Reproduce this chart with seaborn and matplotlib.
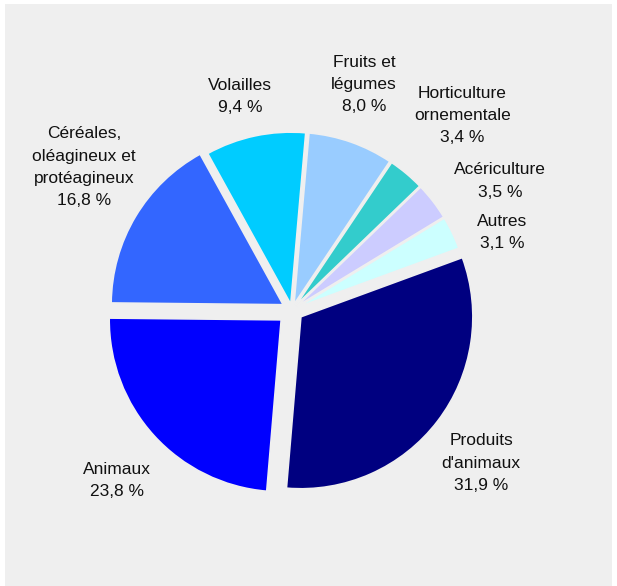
import matplotlib
matplotlib.use("Agg")
import matplotlib.pyplot as plt
import seaborn as sns
from matplotlib.patches import Rectangle

sns.set_style("white")
plt.rcParams['font.family'] = ['Liberation Sans', 'DejaVu Sans']

# Données (ordre horaire depuis le haut)
categories = ["Fruits et\nlégumes", "Horticulture\nornementale", "Acériculture",
              "Autres", "Produits\nd'animaux", "Animaux",
              "Céréales,\noléagineux et\nprotéagineux", "Volailles"]
parts = [8.0, 3.4, 3.5, 3.1, 31.9, 23.8, 16.8, 9.4]
pct_labels = ["8,0 %", "3,4 %", "3,5 %", "3,1 %", "31,9 %", "23,8 %", "16,8 %", "9,4 %"]
colors = ["#99ccff", "#33cccc", "#ccccff", "#ccffff", "#000080", "#0000ff", "#3366ff", "#00ccff"]
explode = [0.035, 0.035, 0.035, 0.035, 0.065, 0.085, 0.06, 0.035]
# positions des étiquettes (en rayons, par rapport au centre)
label_pos = [(0.42, 1.31), (0.99, 1.13), (1.21, 0.75), (1.22, 0.45),
             (1.10, -0.89), (-1.02, -0.99), (-1.21, 0.83), (-0.30, 1.24)]

bg = "#efefef"
fig = plt.figure(figsize=(6.17, 5.86), dpi=100)
fig.patch.set_facecolor("white")
fig.patches.append(Rectangle((5 / 617, 0), 607 / 617, 582 / 586,
                             transform=fig.transFigure, facecolor=bg,
                             edgecolor="none", zorder=-1))

ax = fig.add_axes([34 / 617, 18 / 586, 516 / 617, 516 / 586])
ax.set_facecolor("none")
ax.pie(parts, colors=colors, explode=explode, startangle=85, counterclock=False,
       radius=1.0, wedgeprops=dict(edgecolor=bg, linewidth=1.2))

for name, pct, (x, y) in zip(categories, pct_labels, label_pos):
    ax.text(x, y, f"{name}\n{pct}", ha="center", va="center",
            fontsize=12.5, linespacing=1.6, color="#111111")

ax.set_xlim(-1.5, 1.5)
ax.set_ylim(-1.5, 1.5)
ax.set_aspect("equal")
ax.axis("off")

plt.savefig("out.png", dpi=100, facecolor=fig.get_facecolor())
plt.close()
